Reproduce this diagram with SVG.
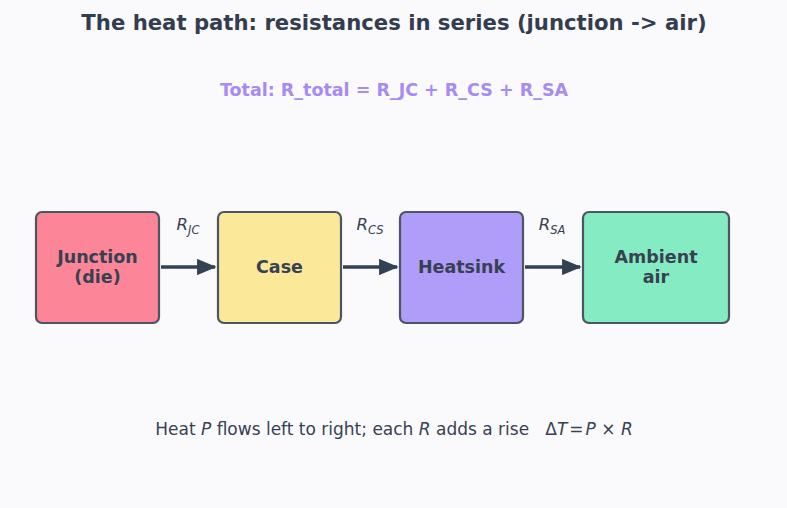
<svg xmlns="http://www.w3.org/2000/svg" width="787" height="508" viewBox="0 0 787 508">
<style>
text{font-family:"DejaVu Sans","Liberation Sans",sans-serif;}
.box{stroke:#4b5563;stroke-width:2.2;}
.lbl{font-size:17.5px;font-weight:bold;fill:#374151;text-anchor:middle;}
.r{font-size:16.5px;font-style:italic;fill:#374151;text-anchor:middle;}
.sub{font-size:11.5px;}
.conn{stroke:#334155;stroke-width:3.5;fill:none;marker-end:url(#ah);}
</style>
<defs>
<marker id="ah" viewBox="0 0 12 10" refX="11" refY="5" markerWidth="5.6" markerHeight="4.7" orient="auto" markerUnits="strokeWidth">
<path d="M0,0 L12,5 L0,10 z" fill="#334155"/>
</marker>
</defs>
<rect width="787" height="508" fill="#fafafd"/>
<text x="394" y="30" font-size="21.2" font-weight="bold" fill="#333d4f" text-anchor="middle">The heat path: resistances in series (junction -&gt; air)</text>
<text x="394" y="96" font-size="17.5" font-weight="bold" fill="#a78bf5" text-anchor="middle">Total: R_total = R_JC + R_CS + R_SA</text>
<g id="connectors">
<line class="conn" x1="161" y1="267" x2="215" y2="267"/>
<line class="conn" x1="343" y1="267" x2="397" y2="267"/>
<line class="conn" x1="525" y1="267" x2="580" y2="267"/>
<text class="r" x="188" y="230">R<tspan class="sub" dy="4">JC</tspan></text>
<text class="r" x="370" y="230">R<tspan class="sub" dy="4">CS</tspan></text>
<text class="r" x="552" y="230">R<tspan class="sub" dy="4">SA</tspan></text>
</g>
<g id="junction">
<rect class="box" x="36" y="212" width="123" height="111" rx="6" fill="#fd8598"/>
<text class="lbl" x="97.5" y="263">Junction</text>
<text class="lbl" x="97.5" y="283">(die)</text>
</g>
<g id="case">
<rect class="box" x="218" y="212" width="123" height="111" rx="6" fill="#fce899"/>
<text class="lbl" x="279.5" y="273">Case</text>
</g>
<g id="heatsink">
<rect class="box" x="400" y="212" width="123" height="111" rx="6" fill="#b09cf9"/>
<text class="lbl" x="461.5" y="273">Heatsink</text>
</g>
<g id="ambient">
<rect class="box" x="583" y="212" width="146" height="111" rx="6" fill="#84ebc3"/>
<text class="lbl" x="656" y="263">Ambient</text>
<text class="lbl" x="656" y="283">air</text>
</g>
<text x="394" y="435" font-size="17" fill="#374151" text-anchor="middle" xml:space="preserve">Heat <tspan font-style="italic">P</tspan> flows left to right; each <tspan font-style="italic">R</tspan> adds a rise   Δ<tspan font-style="italic">T</tspan><tspan dx="2">=</tspan><tspan dx="2" font-style="italic">P</tspan> × <tspan font-style="italic">R</tspan></text>
</svg>
